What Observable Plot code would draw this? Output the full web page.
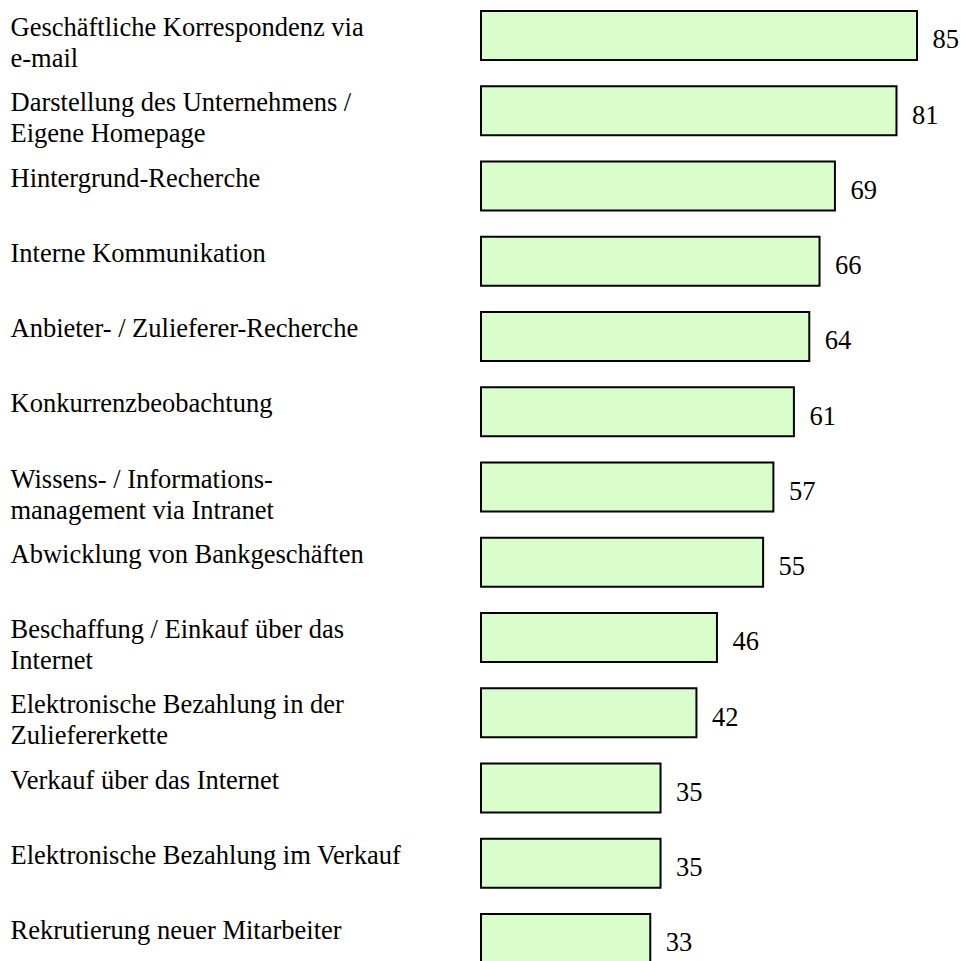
<!DOCTYPE html>
<html>
<head>
<meta charset="utf-8">
<script src="https://cdn.jsdelivr.net/npm/d3@7"></script>
<script src="https://cdn.jsdelivr.net/npm/@observablehq/plot@0.6"></script>
<style>
  html, body { margin: 0; padding: 0; background: #ffffff; }
  #chart { width: 961px; height: 961px; overflow: hidden; }
</style>
</head>
<body>
<div id="chart"></div>
<script>
const categories = [
  "Geschäftliche Korrespondenz via\ne-mail",
  "Darstellung des Unternehmens /\nEigene Homepage",
  "Hintergrund-Recherche",
  "Interne Kommunikation",
  "Anbieter- / Zulieferer-Recherche",
  "Konkurrenzbeobachtung",
  "Wissens- / Informations-\nmanagement via Intranet",
  "Abwicklung von Bankgeschäften",
  "Beschaffung / Einkauf über das\nInternet",
  "Elektronische Bezahlung in der\nZuliefererkette",
  "Verkauf über das Internet",
  "Elektronische Bezahlung im Verkauf",
  "Rekrutierung neuer Mitarbeiter"
];
const values = [85, 81, 69, 66, 64, 61, 57, 55, 46, 42, 35, 35, 33];

const data = categories.map((c, i) => ({category: c, value: values[i]}));

const font = "Liberation Serif, Times New Roman, serif";
const fs = 26.5;

const chart = Plot.plot({
  width: 961,
  height: 961,
  margin: 0,
  style: {fontFamily: font, background: "#ffffff", color: "#000000"},
  x: {domain: [0, 85], range: [481, 917], axis: null},
  y: {domain: categories, range: [11, 963], padding: 0, paddingInner: 0.349, paddingOuter: 0, round: false, axis: null},
  marks: [
    Plot.barX(data, {
      y: "category",
      x1: 0,
      x2: "value",
      fill: "#d9fecb",
      stroke: "#000000",
      strokeWidth: 2
    }),
    Plot.text(data, {
      y: "category",
      x: "value",
      text: d => String(d.value),
      textAnchor: "start",
      dx: 15,
      dy: 4,
      fontSize: fs,
      fill: "#000000"
    }),
    Plot.text(data, {
      y: "category",
      frameAnchor: "left",
      text: "category",
      textAnchor: "start",
      lineAnchor: "top",
      lineHeight: 1.17,
      dx: 10,
      dy: -22,
      fontSize: fs,
      fill: "#000000"
    })
  ]
});
document.getElementById("chart").appendChild(chart);
</script>
</body>
</html>
